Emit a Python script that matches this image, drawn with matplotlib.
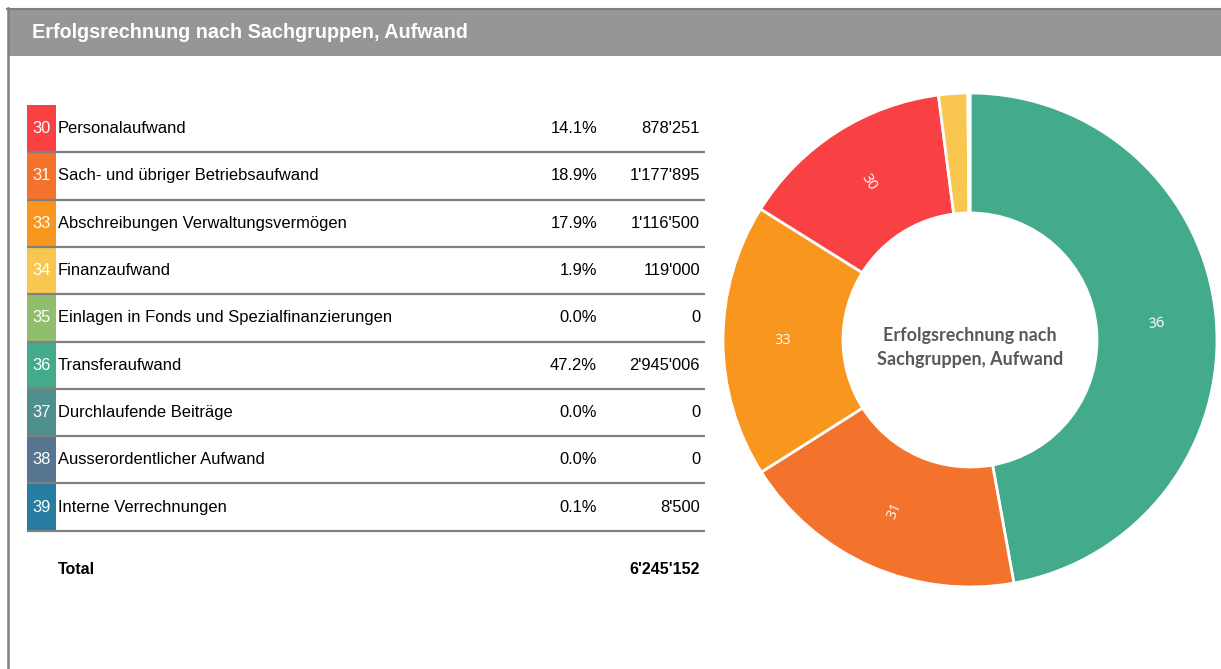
import numpy as np
import matplotlib
matplotlib.use("Agg")
import matplotlib.pyplot as plt
from matplotlib.patches import Rectangle

# Data
codes = ["30", "31", "33", "34", "35", "36", "37", "38", "39"]
names = [
    "Personalaufwand",
    "Sach- und übriger Betriebsaufwand",
    "Abschreibungen Verwaltungsvermögen",
    "Finanzaufwand",
    "Einlagen in Fonds und Spezialfinanzierungen",
    "Transferaufwand",
    "Durchlaufende Beiträge",
    "Ausserordentlicher Aufwand",
    "Interne Verrechnungen",
]
values = [878251, 1177895, 1116500, 119000, 0, 2945006, 0, 0, 8500]
colors = ["#F94144", "#F3722C", "#F8961E", "#F9C74F", "#90BE6D",
          "#43AA8B", "#4D908E", "#577590", "#277DA1"]
title = "Erfolgsrechnung nach Sachgruppen, Aufwand"
center_title = "Erfolgsrechnung nach\nSachgruppen, Aufwand"

W, H = 1221, 669
total = sum(values)


def fmt(v):
    return f"{v:,}".replace(",", "'")


fig = plt.figure(figsize=(W / 100, H / 100), dpi=100)
fig.patch.set_facecolor("white")

# Pixel-coordinate axes for frame and table
bg = fig.add_axes([0, 0, 1, 1])
bg.set_xlim(0, W)
bg.set_ylim(H, 0)
bg.axis("off")

# Frame and header bar
bg.add_patch(Rectangle((8, 9), W - 8, 47, facecolor="#969696", edgecolor="none"))
bg.plot([7, W], [8.5, 8.5], color="#7f7f7f", lw=1.5)
bg.plot([7.5, 7.5], [8, H], color="#7f7f7f", lw=1.8)
bg.text(32, 32.5, title, color="white", fontsize=14.2, fontweight="bold",
        family="Liberation Sans", va="center", ha="left")

# Table
tab_font = "Liberation Sans"
fs = 11.9
row_top = 105
row_h = 47.3
x_left, x_right = 27, 705
for i, (c, n, v, col) in enumerate(zip(codes, names, values, colors)):
    y0 = row_top + i * row_h
    yc = y0 + row_h / 2
    bg.add_patch(Rectangle((x_left, y0), 29, row_h, facecolor=col, edgecolor="none"))
    bg.plot([x_left, x_right], [y0 + row_h, y0 + row_h], color="#808080", lw=1.6,
            solid_capstyle="butt")
    bg.text(41.5, yc, c, color="white", fontsize=fs, family=tab_font,
            ha="center", va="center")
    bg.text(58, yc, n, color="black", fontsize=fs, family=tab_font,
            ha="left", va="center")
    bg.text(597, yc, f"{100 * v / total:.1f}%", color="black", fontsize=fs,
            family=tab_font, ha="right", va="center")
    bg.text(700, yc, fmt(v), color="black", fontsize=fs, family=tab_font,
            ha="right", va="center")

y_tot = row_top + len(codes) * row_h + 39
bg.text(58, y_tot, "Total", fontsize=11.5, fontweight="bold", family=tab_font,
        ha="left", va="center")
bg.text(700, y_tot, fmt(total), fontsize=11.5, fontweight="bold", family=tab_font,
        ha="right", va="center")

# Donut chart
cx, cy, r_out, r_in = 970, 340, 247, 127
pie_ax = fig.add_axes([(cx - r_out) / W, (H - cy - r_out) / H,
                       2 * r_out / W, 2 * r_out / H])

order = sorted([i for i, v in enumerate(values) if v > 0], key=lambda i: -values[i])
pie_vals = [values[i] for i in order]
pie_cols = [colors[i] for i in order]
wedges, _ = pie_ax.pie(pie_vals, colors=pie_cols, startangle=90, counterclock=False,
                       radius=1, wedgeprops=dict(width=1 - r_in / r_out,
                                                 edgecolor="white", linewidth=2))
pie_ax.set_xlim(-1, 1)
pie_ax.set_ylim(-1, 1)
pie_ax.set_aspect("equal")
pie_ax.axis("off")

r_mid = (1 + r_in / r_out) / 2
for w, i in zip(wedges, order):
    if values[i] / total < 0.05:
        continue
    ang = (w.theta1 + w.theta2) / 2
    rot = ang
    while rot > 90:
        rot -= 180
    while rot < -90:
        rot += 180
    pie_ax.text(r_mid * np.cos(np.radians(ang)), r_mid * np.sin(np.radians(ang)),
                codes[i], color="white", fontsize=10.5, family="Open Sans",
                rotation=rot, ha="center", va="center", rotation_mode="anchor")

pie_ax.text(0, -8 / r_out, center_title, color="#595959", fontsize=13, fontweight="bold",
            family="Lato", ha="center", va="center", linespacing=1.5)

fig.savefig("out.png", dpi=100)
